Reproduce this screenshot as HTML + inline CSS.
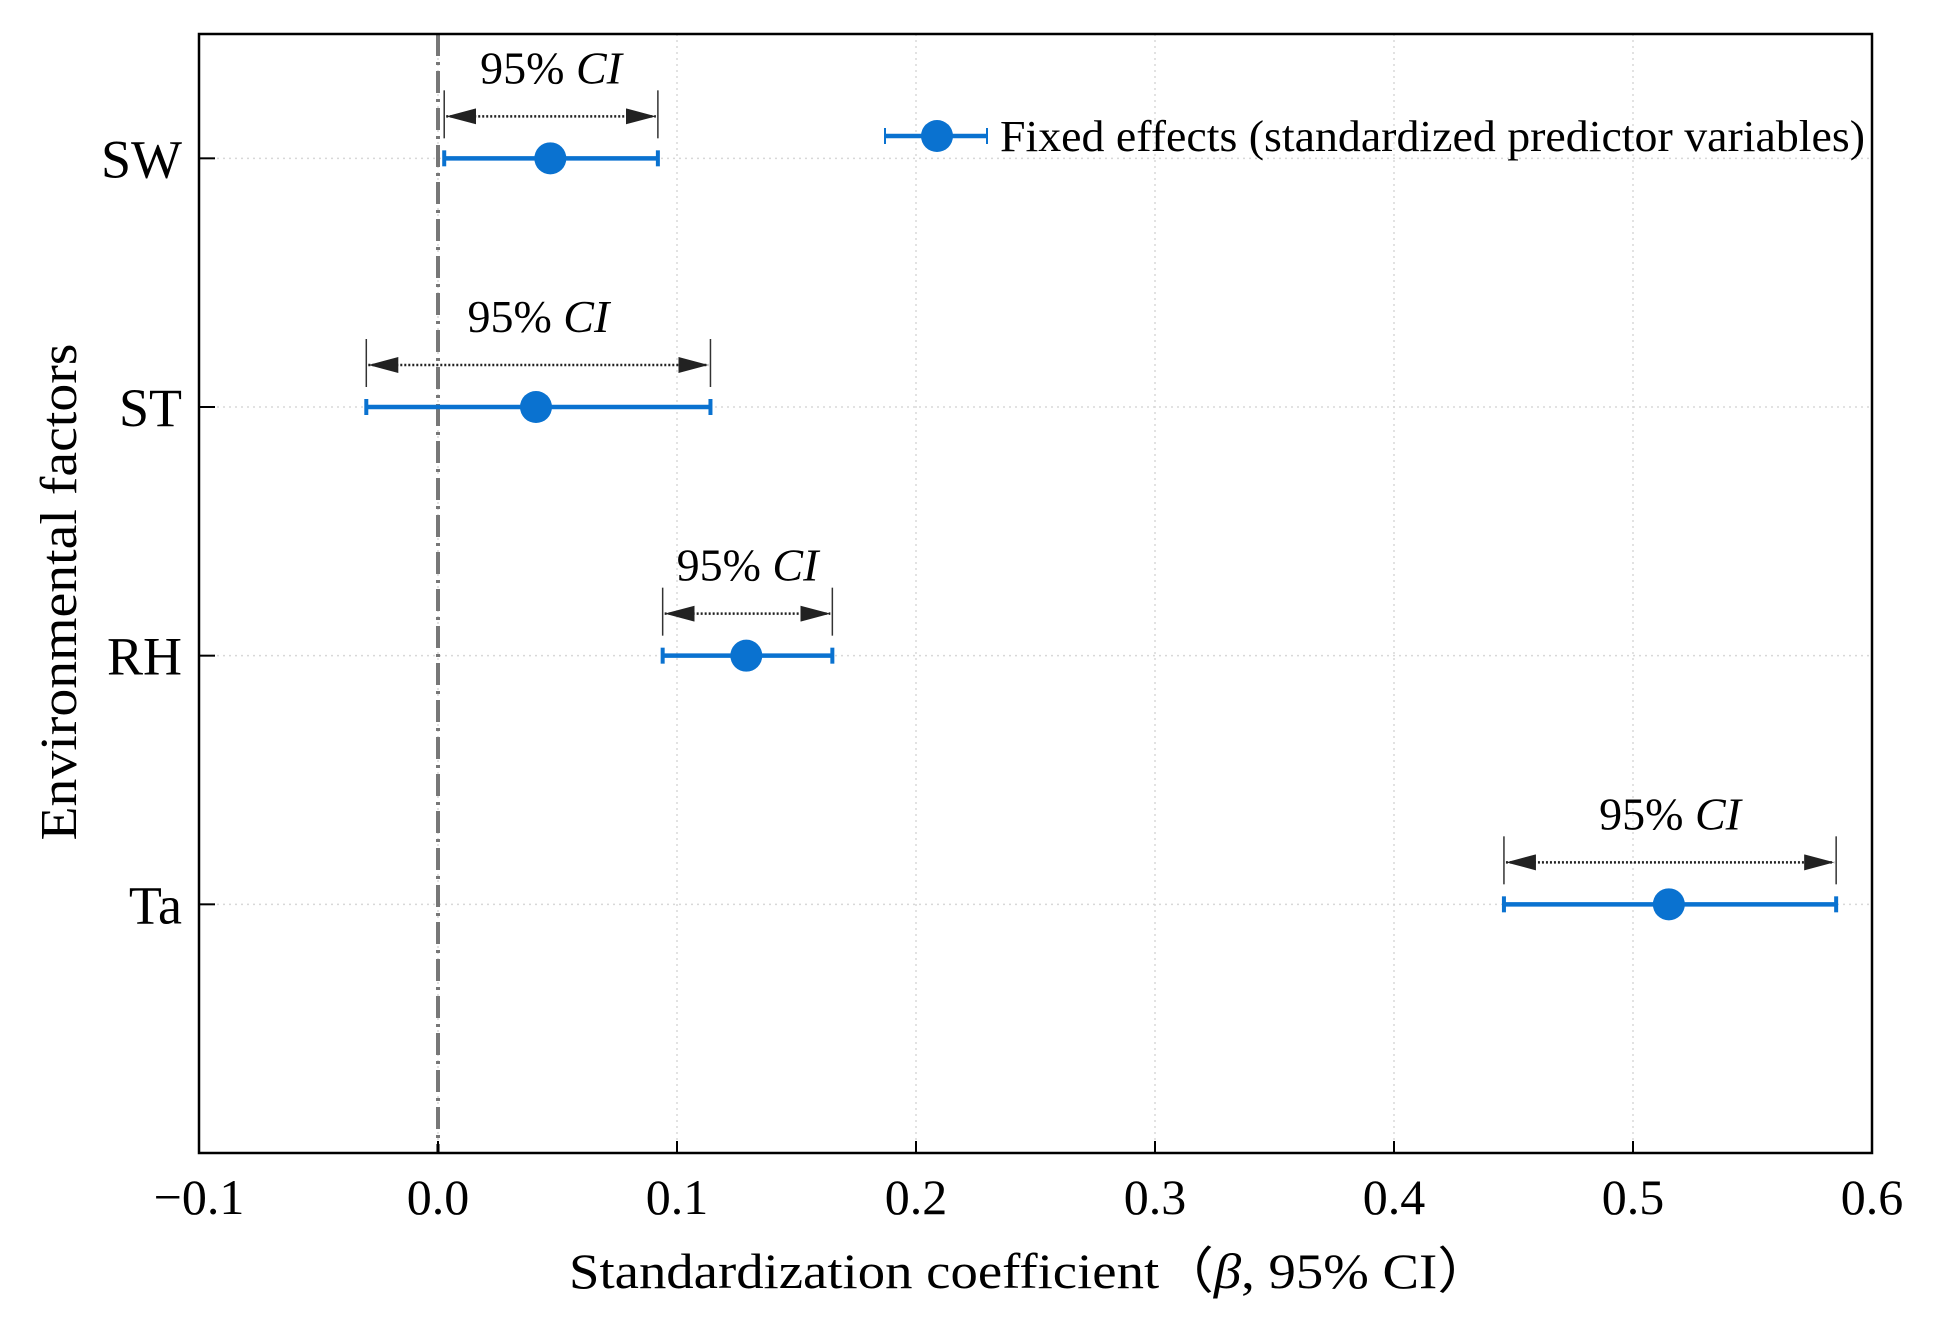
<!DOCTYPE html>
<html><head><meta charset="utf-8"><style>
html,body{margin:0;padding:0;background:#fff;}
svg, svg text{font-family:"Liberation Serif","Times New Roman",serif;}
svg{display:block;}
</style></head><body>
<svg id="chart" width="1934" height="1336" viewBox="0 0 1934 1336" xmlns="http://www.w3.org/2000/svg" font-family="Liberation Serif, serif">
<defs>
<marker id="ah" viewBox="0 0 10 10" refX="10" refY="5" markerWidth="30" markerHeight="16" markerUnits="userSpaceOnUse" orient="auto-start-reverse" preserveAspectRatio="none"><path d="M0,0 L10,5 L0,10 z" fill="#222"/></marker>
</defs>
<g id="grid"></g>
<g id="marks"></g>
<g id="axes"></g>
</svg>
<script>
const categories = ["SW","ST","RH","Ta"];
const estimates = [0.047, 0.041, 0.129, 0.515];
const lowerCI = [0.0026, -0.030, 0.094, 0.446];
const upperCI = [0.092, 0.114, 0.165, 0.585];
const xTicks = [-0.1, 0, 0.1, 0.2, 0.3, 0.4, 0.5, 0.6];
const xTickLabels = ["\u22120.1","0.0","0.1","0.2","0.3","0.4","0.5","0.6"];

const L=199,R=1872,T=34,B=1153;
const xMin=-0.1,xMax=0.6,yMin=0,yMax=4.5;
const NS="http://www.w3.org/2000/svg";
const FF="Liberation Serif, serif";
function xs(v){return L+(v-xMin)/(xMax-xMin)*(R-L);}
function ys(i){const v=categories.length-i;return B-(v-yMin)/(yMax-yMin)*(B-T);}
function mk(tag,attrs,parent,text){const e=document.createElementNS(NS,tag);for(const k in attrs)e.setAttribute(k,attrs[k]);if(tag==='text')e.setAttribute('font-family',FF);if(text!==undefined)e.textContent=text;parent.appendChild(e);return e;}
const grid=document.getElementById('grid'),marks=document.getElementById('marks'),axes=document.getElementById('axes');
const blue="#0a72d0";

xTicks.forEach((t,i)=>{
  if(i>0&&i<xTicks.length-1){const g=mk('line',{x1:xs(t),x2:xs(t),y1:T,y2:B,stroke:'#d8d8d8','stroke-width':1.5,'stroke-dasharray':'2 4'},grid);
  
  }
  const tk=mk('line',{x1:xs(t),x2:xs(t),y1:B,y2:B-12,stroke:'#000','stroke-width':2},axes);
  
  
  const lb=mk('text',{x:xs(t),y:1214,'font-size':50,'text-anchor':'middle'},axes,xTickLabels[i]);
  
  
});
categories.forEach((c,i)=>{
  const y=ys(i);
  const g=mk('line',{x1:L,x2:R,y1:y,y2:y,stroke:'#d8d8d8','stroke-width':1.5,'stroke-dasharray':'2 4'},grid);
  
  
  const tk=mk('line',{x1:L,x2:L+16,y1:y,y2:y,stroke:'#000','stroke-width':2},axes);
  
  
  const lb=mk('text',{x:182,y:y+19,'font-size':54,'text-anchor':'end'},axes,c);
  
  
});
const z=mk('line',{x1:xs(0),x2:xs(0),y1:T,y2:B,stroke:'#777','stroke-width':4,'stroke-dasharray':'22 6 3 6'},grid);



categories.forEach((c,i)=>{
  const y=ys(i),x1=xs(lowerCI[i]),x2=xs(upperCI[i]),xm=xs(estimates[i]);
  const g=mk('g',{},marks);
  
  
  mk('line',{x1:x1,x2:x2,y1:y,y2:y,stroke:blue,'stroke-width':4.5},g);
  mk('line',{x1:x1,x2:x1,y1:y-8,y2:y+8,stroke:blue,'stroke-width':4},g);
  mk('line',{x1:x2,x2:x2,y1:y-8,y2:y+8,stroke:blue,'stroke-width':4},g);
  const p=mk('circle',{cx:xm,cy:y,r:16,fill:blue},g);
  
  
  const a=mk('g',{},marks);
  
  
  const ay=y-42;
  mk('line',{x1:x1,x2:x1,y1:ay-26,y2:ay+22,stroke:'#333','stroke-width':1.5},a);
  mk('line',{x1:x2,x2:x2,y1:ay-26,y2:ay+22,stroke:'#333','stroke-width':1.5},a);
  mk('line',{x1:x1+2,x2:x2-2,y1:ay,y2:ay,stroke:'#222','stroke-width':2.5,'stroke-dasharray':'2 2','marker-start':'url(#ah)','marker-end':'url(#ah)'},a);
  const t=mk('text',{x:(x1+x2)/2,y:ay-33,'font-size':46,'text-anchor':'middle'},a);
  mk('tspan',{},t,'95% ');
  mk('tspan',{'font-style':'italic'},t,'CI');
});
const f=mk('rect',{x:L,y:T,width:R-L,height:B-T,fill:'none',stroke:'#000','stroke-width':2.5},axes);


const lg=mk('g',{},axes);


mk('line',{x1:884,x2:988,y1:136,y2:136,stroke:blue,'stroke-width':4.5},lg);
mk('line',{x1:885,x2:885,y1:128,y2:144,stroke:blue,'stroke-width':2},lg);
mk('line',{x1:987,x2:987,y1:128,y2:144,stroke:blue,'stroke-width':2},lg);
mk('circle',{cx:937,cy:136,r:16,fill:blue},lg);
mk('text',{x:1000,y:151,'font-size':44,textLength:865,lengthAdjust:'spacingAndGlyphs'},lg,'Fixed effects (standardized predictor variables)');
const xt=mk('text',{x:569,y:1288,'font-size':50,textLength:923,lengthAdjust:'spacingAndGlyphs'},axes);


mk('tspan',{},xt,'Standardization coefficient（');
mk('tspan',{'font-style':'italic'},xt,'β');
mk('tspan',{},xt,', 95% CI）');
const yt=mk('text',{x:0,y:0,'font-size':52,'text-anchor':'middle',transform:'translate(76,592) rotate(-90)',textLength:497,lengthAdjust:'spacingAndGlyphs'},axes,'Environmental factors');


</script>
</body></html>
